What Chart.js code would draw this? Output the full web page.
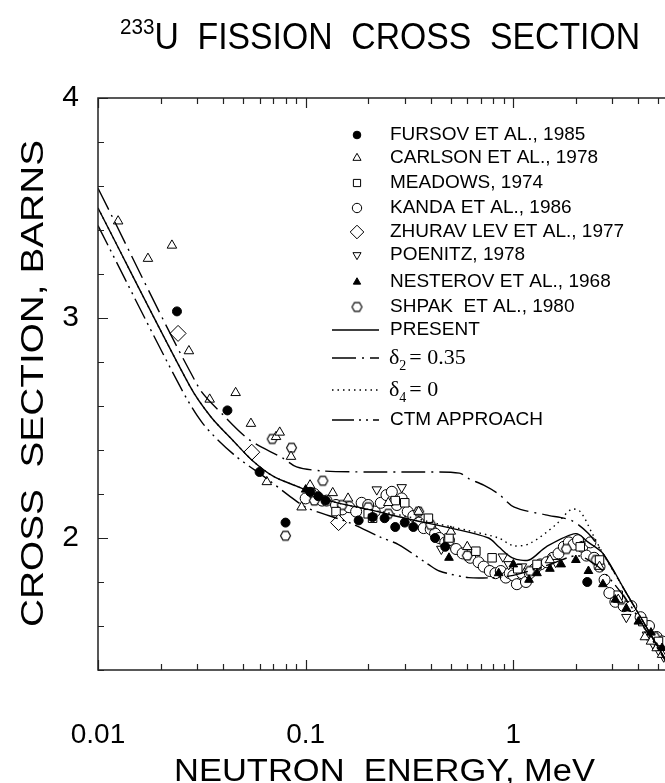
<!DOCTYPE html>
<html>
<head>
<meta charset="utf-8">
<script src="https://cdn.jsdelivr.net/npm/chart.js@4.4.0/dist/chart.umd.min.js"></script>
<style>
html, body { margin: 0; padding: 0; background: #fff; overflow: hidden; }
#wrap { position: relative; width: 665px; height: 783px; overflow: hidden; }
#xsChart { position: absolute; left: 0; top: 0; display: block; width: 730px; height: 783px; }
</style>
</head>
<body>
<div id="wrap"><canvas id="xsChart" width="730" height="783"></canvas></div>
<script>
// axis ranges and tick labels
const xRange = [0.01, 10];
const yRange = [1.4, 4];
const xTickValues = [0.01, 0.1, 1];
const yTickValues = [2, 3, 4];

// experimental data: [energy MeV, cross section b]
const fursov = [[0.024,3.03],[0.042,2.58],[0.06,2.30],[0.08,2.07],[0.105,2.21],[0.115,2.19],[0.125,2.17],
  [0.18,2.08],[0.21,2.095],[0.24,2.09],[0.27,2.05],[0.3,2.07],[0.33,2.05],[0.42,2.0],[0.47,1.96],[2.27,1.80]];
const carlson = [[0.0125,3.44],[0.0174,3.27],[0.0227,3.33],[0.0274,2.85],[0.0345,2.63],[0.046,2.66],[0.0545,2.52],
  [0.065,2.255],[0.072,2.46],[0.075,2.48],[0.085,2.37],[0.0956,2.14],[0.105,2.24],[0.11,2.20],[0.135,2.205],
  [0.16,2.18],[0.25,2.16],[0.35,2.12],[0.5,2.03],[0.6,1.96],[1.5,1.90],[2.6,1.87],[3.2,1.72],[4.3,1.55],
  [4.6,1.53],[4.9,1.50],[5.2,1.47]];
const meadows = [[0.14,2.12],[0.2,2.11],[0.21,2.09],[0.27,2.17],[0.3,2.16],[0.39,2.09],[0.49,2.0],[0.66,1.94],
  [0.79,1.91],[1.05,1.86],[1.3,1.88],[2.1,1.96],[2.6,1.90],[3.2,1.74],[4.2,1.62],[5.0,1.53]];
const kanda = [[0.1,2.18],[0.11,2.2],[0.12,2.17],[0.126,2.17],[0.14,2.15],[0.15,2.13],[0.162,2.14],[0.175,2.12],
  [0.186,2.16],[0.2,2.15],[0.215,2.12],[0.23,2.16],[0.245,2.195],[0.26,2.21],[0.275,2.15],[0.29,2.18],[0.31,2.12],
  [0.33,2.10],[0.35,2.07],[0.37,2.045],[0.4,2.04],[0.42,2.02],[0.44,2.0],[0.47,1.98],[0.49,1.99],[0.53,1.95],
  [0.57,1.93],[0.62,1.91],[0.68,1.89],[0.72,1.87],[0.77,1.85],[0.82,1.84],[0.87,1.85],[0.92,1.82],[0.96,1.84],
  [1.0,1.83],[1.04,1.79],[1.1,1.84],[1.15,1.80],[1.2,1.84],[1.27,1.86],[1.35,1.88],[1.45,1.89],[1.55,1.91],
  [1.65,1.93],[1.75,1.96],[1.85,1.98],[1.95,1.97],[2.05,1.99],[2.15,1.96],[2.25,1.92],[2.35,1.98],[2.45,1.91],
  [2.6,1.87],[2.75,1.81],[2.9,1.75],[3.1,1.71],[3.4,1.69],[3.7,1.69],[4.1,1.64],[4.5,1.6],[4.9,1.55],[5.2,1.53]];
const zhurav = [[0.0243,2.93],[0.055,2.39],[0.144,2.07]];
const poenitz = [[0.22,2.22],[0.29,2.23],[0.45,1.95],[0.89,1.915],[0.95,1.88],[1.1,1.87],[1.6,1.89],
  [3.5,1.64],[4.4,1.56],[4.7,1.52],[5.0,1.49],[5.3,1.46]];
const nesterov = [[0.1,2.22],[0.49,1.91],[0.85,1.84],[1.0,1.88],[1.19,1.81],[1.3,1.84],[1.5,1.86],[1.7,1.88],
  [2.0,1.90],[2.3,1.85],[2.7,1.79],[3.1,1.72],[3.5,1.68],[4.0,1.62],[4.6,1.57],[5.2,1.50]];
const shpak = [[0.069,2.45],[0.08,2.01],[0.0855,2.41],[0.11,2.17],[0.121,2.26],[0.15,2.15],[0.2,2.14],[0.25,2.11],
  [0.35,2.12],[0.4,2.06],[0.6,1.92],[1.2,1.85],[1.8,1.95],[2.5,1.9],[3.3,1.72],[4.8,1.55]];

// calculated curves
const present = [[0.01,3.50],[0.0277,2.69],[0.035,2.55],[0.045,2.44],[0.0557,2.35],[0.07,2.28],[0.0935,2.23],
  [0.13,2.17],[0.2,2.13],[0.3,2.09],[0.5,2.045],[0.76,2.0],[0.85,1.96],[0.99,1.91],[1.19,1.90],[1.44,1.96],
  [2.0,2.02],[2.3,1.98],[2.7,1.93],[3.5,1.75],[4.5,1.575],[5.5,1.435],[6.5,1.32]];
const delta2 = [[0.01,3.59],[0.0303,2.69],[0.04,2.56],[0.0538,2.445],[0.0774,2.364],[0.0904,2.323],[0.12,2.305],
  [0.2,2.30],[0.35,2.30],[0.55,2.295],[0.61,2.27],[0.72,2.24],[0.85,2.20],[1.01,2.14],[1.43,2.105],[1.9,2.08],
  [2.3,2.02],[2.7,1.93],[3.5,1.75],[4.5,1.575],[5.5,1.435],[6.5,1.32]];
const delta4 = [[0.01,3.50],[0.0277,2.69],[0.035,2.55],[0.045,2.44],[0.0557,2.35],[0.07,2.28],[0.0935,2.23],
  [0.13,2.17],[0.2,2.13],[0.3,2.10],[0.43,2.065],[0.6,2.035],[0.85,2.0],[1.0,1.965],[1.2,1.975],[1.6,2.06],
  [1.9,2.13],[2.1,2.12],[2.4,2.02],[2.7,1.93],[3.5,1.75],[4.5,1.575],[5.5,1.435],[6.5,1.32]];
const ctm = [[0.01,3.42],[0.0248,2.69],[0.032,2.52],[0.045,2.38],[0.065,2.27],[0.0866,2.18],[0.102,2.136],
  [0.162,2.07],[0.227,2.005],[0.28,1.97],[0.39,1.88],[0.44,1.85],[0.61,1.82],[0.8,1.82],[1.0,1.83],[1.5,1.88],
  [2.0,1.92],[2.3,1.90],[2.7,1.85],[3.5,1.72],[4.5,1.56],[5.5,1.43],[6.5,1.32]];

const FONT = "'Liberation Sans', Arial, sans-serif";
const SERIF = "'Liberation Serif', 'Times New Roman', serif";

function pts(arr) {
    return arr.map(p => ({x: p[0], y: p[1]}));
}

function hexCanvas(r) {
    const s = Math.ceil(r * 2 + 3);
    const c = document.createElement('canvas');
    c.width = s; c.height = s;
    const g = c.getContext('2d');
    g.beginPath();
    for (let i = 0; i < 6; i++) {
        const a = Math.PI / 3 * i;
        g.lineTo(s / 2 + r * Math.cos(a), s / 2 + r * Math.sin(a));
    }
    g.closePath();
    g.fillStyle = '#fff'; g.fill();
    g.lineWidth = 1.1; g.strokeStyle = '#000'; g.stroke();
    return c;
}
const hexStyle = hexCanvas(5);

function markSet(label, arr, style, radius, fill, rotation, order) {
    return {
        type: 'scatter', label: label, data: pts(arr), order: order,
        pointStyle: style, pointRadius: radius, pointRotation: rotation || 0,
        pointBackgroundColor: fill, pointBorderColor: '#000', pointBorderWidth: 1
    };
}
function curveSet(label, arr, dash) {
    return {
        type: 'line', label: label, data: pts(arr), order: 0,
        borderColor: '#000', borderWidth: 1.4, borderDash: dash, pointRadius: 0,
        fill: false, tension: 0.3
    };
}

const datasets = [
    markSet('FURSOV ET AL., 1985', fursov, 'circle', 4.5, '#000', 0, 2),
    markSet('CARLSON ET AL., 1978', carlson, 'triangle', 5.5, '#fff', 0, 5),
    markSet('MEADOWS, 1974', meadows, 'rect', 6, '#fff', 0, 5),
    markSet('KANDA ET AL., 1986', kanda, 'circle', 5.5, '#fff', 0, 8),
    markSet('ZHURAV LEV ET AL., 1977', zhurav, 'rectRot', 8, '#fff', 0, 4),
    markSet('POENITZ, 1978', poenitz, 'triangle', 5.5, '#fff', 180, 5),
    markSet('NESTEROV ET AL., 1968', nesterov, 'triangle', 5, '#000', 0, 2),
    markSet('SHPAK  ET AL., 1980', shpak, hexStyle, 5, '#fff', 0, 6),
    curveSet('PRESENT', present, []),
    curveSet('d2', delta2, [24, 6, 2, 6]),
    curveSet('d4', delta4, [1.5, 4]),
    curveSet('CTM APPROACH', ctm, [22, 5, 2, 5, 2, 5])
];

// legend row centres, one per dataset
const legendY = [135, 158, 183, 208, 232, 255, 282, 307, 330, 358, 390, 420];

function stretchText(ctx, text, x, y, width) {
    const w = ctx.measureText(text).width;
    ctx.save();
    ctx.translate(x, y);
    ctx.scale(width / w, 1);
    ctx.fillText(text, 0, 0);
    ctx.restore();
}

const framePlugin = {
    id: 'frame',
    afterDatasetsDraw(chart) {
        const ctx = chart.ctx, a = chart.chartArea;
        const xs = chart.scales.x, ys = chart.scales.y;
        ctx.save();
        ctx.strokeStyle = '#222';
        ctx.lineWidth = 1.5;
        ctx.strokeRect(a.left, a.top, a.right - a.left, a.bottom - a.top);
        ctx.lineWidth = 1.2;
        ctx.beginPath();
        // x ticks, inward, top and bottom
        for (let d = 0.01; d < 10; d *= 10) {
            for (let m = 1; m <= 9; m++) {
                const px = Math.round(xs.getPixelForValue(m * d)) + 0.5;
                const len = m === 1 ? 10 : 6;
                ctx.moveTo(px, a.bottom); ctx.lineTo(px, a.bottom - len);
                ctx.moveTo(px, a.top); ctx.lineTo(px, a.top + len);
            }
        }
        // y ticks every 0.2
        for (let i = 0; i <= 13; i++) {
            const v = 1.4 + i * 0.2;
            const py = Math.round(ys.getPixelForValue(v)) + 0.5;
            const len = Math.abs(v - Math.round(v)) < 0.01 ? 10 : 6;
            ctx.moveTo(a.left, py); ctx.lineTo(a.left + len, py);
            ctx.moveTo(a.right, py); ctx.lineTo(a.right - len, py);
        }
        ctx.stroke();
        ctx.restore();
    },
    afterDraw(chart) {
        const ctx = chart.ctx;
        ctx.save();
        ctx.fillStyle = '#000';
        ctx.textBaseline = 'alphabetic';
        ctx.textAlign = 'left';

        // title with superscript
        ctx.font = '22px ' + FONT;
        const supW = ctx.measureText('233').width;
        ctx.font = '36px ' + FONT;
        const mainT = 'U  FISSION  CROSS  SECTION';
        const mainW = ctx.measureText(mainT).width;
        const k = 520 / (supW + mainW);
        ctx.save();
        ctx.translate(120, 49);
        ctx.scale(k, 1);
        ctx.font = '22px ' + FONT;
        ctx.fillText('233', 0, -15);
        ctx.font = '36px ' + FONT;
        ctx.fillText(mainT, supW, 0);
        ctx.restore();

        // axis titles
        ctx.font = '31px ' + FONT;
        stretchText(ctx, 'NEUTRON  ENERGY, MeV', 174, 781, 421);
        ctx.save();
        ctx.translate(43, 627);
        ctx.rotate(-Math.PI / 2);
        stretchText(ctx, 'CROSS  SECTION, BARNS', 0, 0, 487);
        ctx.restore();

        // legend
        const H = Chart.helpers;
        ctx.font = '19px ' + FONT;
        ctx.textBaseline = 'middle';
        datasets.forEach((ds, i) => {
            const y = legendY[i];
            if (ds.type === 'scatter') {
                ctx.fillStyle = ds.pointBackgroundColor;
                ctx.strokeStyle = '#000';
                ctx.lineWidth = 1;
                H.drawPoint(ctx, {pointStyle: ds.pointStyle, rotation: ds.pointRotation,
                    radius: ds.pointRadius * 0.85, borderWidth: 1}, 357, y);
            } else {
                ctx.strokeStyle = '#000';
                ctx.lineWidth = 1.4;
                ctx.setLineDash(ds.borderDash);
                ctx.beginPath();
                ctx.moveTo(332, y); ctx.lineTo(379, y);
                ctx.stroke();
                ctx.setLineDash([]);
            }
            ctx.fillStyle = '#000';
            if (ds.label === 'd2' || ds.label === 'd4') {
                const sub = ds.label === 'd2' ? '2' : '4';
                const rest = ds.label === 'd2' ? '= 0.35' : '= 0';
                ctx.font = '22px ' + SERIF;
                ctx.fillText('\u03b4', 389, y);
                const dw = ctx.measureText('\u03b4').width;
                ctx.font = '14px ' + SERIF;
                ctx.fillText(sub, 389 + dw, y + 8);
                ctx.font = '22px ' + SERIF;
                ctx.fillText(rest, 389 + dw + 10, y);
                ctx.font = '19px ' + FONT;
            } else {
                ctx.fillText(ds.label, 390, y);
            }
        });
        ctx.restore();
    }
};

const chart = new Chart(document.getElementById('xsChart'), {
    type: 'scatter',
    data: { datasets: datasets },
    options: {
        responsive: false,
        animation: false,
        devicePixelRatio: 1,
        layout: { padding: { top: 98, right: 8, bottom: 0, left: 0 } },
        plugins: { legend: { display: false }, tooltip: { enabled: false } },
        scales: {
            x: {
                type: 'logarithmic', min: xRange[0], max: xRange[1],
                grid: { display: false, drawTicks: false }, border: { display: false },
                afterBuildTicks: s => { s.ticks = xTickValues.map(v => ({ value: v })); },
                afterFit: s => { s.height = 113; },
                ticks: { font: { family: FONT, size: 28 }, color: '#000', padding: 48,
                    maxRotation: 0, autoSkip: false, callback: v => String(v) }
            },
            y: {
                min: yRange[0], max: yRange[1],
                grid: { display: false, drawTicks: false }, border: { display: false },
                afterBuildTicks: s => { s.ticks = yTickValues.map(v => ({ value: v })); },
                afterFit: s => { s.width = 98; },
                ticks: { font: { family: FONT, size: 30 }, color: '#000', padding: 19,
                    autoSkip: false, callback: v => String(v) }
            }
        }
    },
    plugins: [framePlugin]
});
</script>
</body>
</html>
